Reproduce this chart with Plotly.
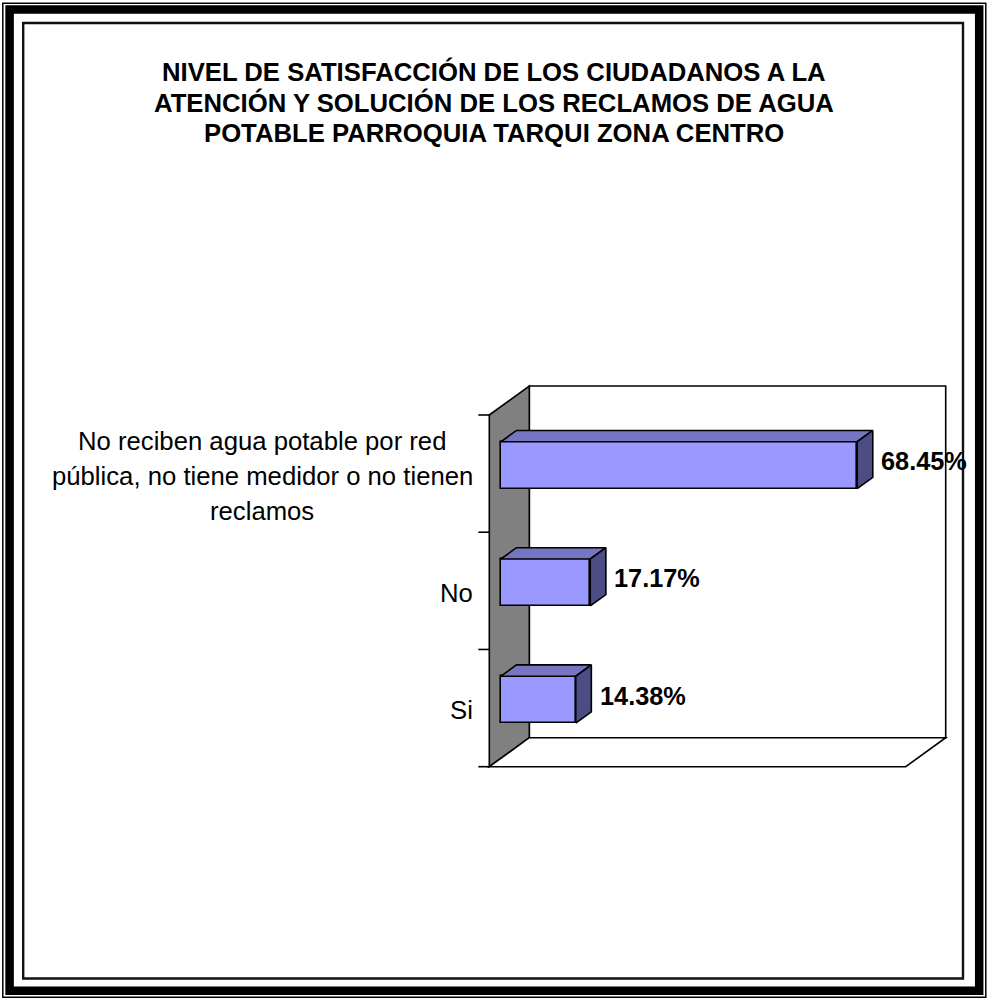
import plotly.graph_objects as go

# ---------------- data ----------------
categories = [
    "Si",
    "No",
    "No reciben agua potable por red<br>pública, no tiene medidor o no tienen<br>reclamos",
]
values = [14.38, 17.17, 68.45]
value_labels = ["14.38%", "17.17%", "68.45%"]
title_text = ("NIVEL DE SATISFACCIÓN DE LOS CIUDADANOS A LA<br>"
              "ATENCIÓN Y SOLUCIÓN DE LOS RECLAMOS DE AGUA<br>"
              "POTABLE PARROQUIA TARQUI ZONA CENTRO")
axis_max = 80

# ---------------- geometry (pixels) ----------------
W, H = 987, 999
FX = 489.3          # x of value 0 on front plane
FX_END = 905.7      # x of axis_max on front plane
FY_BOT = 766.7      # bottom of category band (front)
FY_TOP = 415.0      # top of category band (front)
DX, DY = 40.0, -29.0  # depth vector in px (y downward)
F0, F1 = 0.29, 0.68   # bar depth span
BAR_W = 0.4
n = len(categories)
S = (FX_END - FX) / axis_max
CH = (FY_BOT - FY_TOP) / n

x_zero_px = FX + F0 * DX
xa = -x_zero_px / S
xb = xa + W / S
yc0 = FY_BOT + F0 * DY - 0.5 * CH
c_hi = yc0 / CH
c_lo = (yc0 - H) / CH


def pt(v, c, d):
    """value, category coordinate, depth (0 front, 1 back) -> axis coords"""
    return v + (d - F0) * DX / S, c - (d - F0) * DY / CH


def path(points):
    return "M " + " L ".join(f"{x:.5f},{y:.5f}" for x, y in points) + " Z"


FONT = "Liberation Sans, Arial, sans-serif"
LINE = dict(color="black", width=1.6)

shapes = []
lo, hi = -0.5, n - 0.5
# back wall
shapes.append(dict(type="path", xref="x", yref="y", layer="below",
                   path=path([pt(0, lo, 1), pt(axis_max, lo, 1), pt(axis_max, hi, 1), pt(0, hi, 1)]),
                   fillcolor="white", line=LINE))
# side wall
shapes.append(dict(type="path", xref="x", yref="y", layer="below",
                   path=path([pt(0, lo, 0), pt(0, hi, 0), pt(0, hi, 1), pt(0, lo, 1)]),
                   fillcolor="#808080", line=LINE))
# floor
shapes.append(dict(type="path", xref="x", yref="y", layer="below",
                   path=path([pt(0, lo, 0), pt(axis_max, lo, 0), pt(axis_max, lo, 1), pt(0, lo, 1)]),
                   fillcolor="white", line=LINE))
# category tick marks
for k in range(n + 1):
    x1, y1 = pt(0, k - 0.5, 0)
    shapes.append(dict(type="line", xref="x", yref="y", layer="below",
                       x0=x1 - 11 / S, y0=y1, x1=x1, y1=y1, line=LINE))


# frame (paper coordinates)
def rect_px(x0, y0, x1, y1, width, color="black"):
    return dict(type="rect", xref="paper", yref="paper",
                x0=x0 / W, x1=x1 / W, y0=1 - y0 / H, y1=1 - y1 / H,
                line=dict(color=color, width=width), fillcolor="rgba(0,0,0,0)", layer="above")


shapes.append(rect_px(2.8, 3.2, 985.8, 997.3, 1.5))
shapes.append(rect_px(9.6, 9.6, 979.2, 990.8, 8.5))
shapes.append(rect_px(23.2, 23.0, 963.0, 978.5, 2.4, "#111111"))

fig = go.Figure()

# bar front faces
fig.add_trace(go.Bar(
    x=values, y=list(range(n)), orientation="h", width=BAR_W, base=0,
    marker=dict(color="#9999FF", line=dict(color="black", width=1.6)),
    hoverinfo="skip", showlegend=False,
))

# bar top and side faces
for i, v in enumerate(values):
    top = [pt(0, i + BAR_W / 2, F0), pt(v, i + BAR_W / 2, F0), pt(v, i + BAR_W / 2, F1), pt(0, i + BAR_W / 2, F1)]
    side = [pt(v, i - BAR_W / 2, F0), pt(v, i + BAR_W / 2, F0), pt(v, i + BAR_W / 2, F1), pt(v, i - BAR_W / 2, F1)]
    for poly, col in ((top, "#7575C2"), (side, "#4D4D85")):
        xs = [p[0] for p in poly] + [poly[0][0]]
        ys = [p[1] for p in poly] + [poly[0][1]]
        fig.add_trace(go.Scatter(x=xs, y=ys, mode="lines", fill="toself", fillcolor=col,
                                 line=dict(color="black", width=1.6), hoverinfo="skip",
                                 showlegend=False))

annotations = []
LABEL_SIZE = 25.7
LABEL_LINE = 35.0   # px between label lines
# category labels (multi-line labels laid out line by line)
for i, cat in enumerate(categories):
    x1, y1 = pt(0, i, 0)
    lines = cat.split("<br>")
    m = len(lines)
    for j, ln in enumerate(lines):
        annotations.append(dict(x=x1, y=y1, xref="x", yref="y", text=ln, showarrow=False,
                                xanchor="center" if m > 1 else "right", yanchor="middle",
                                xshift=(-14 - 213) if m > 1 else -14,
                                yshift=((m - 1) / 2 - j) * LABEL_LINE - 2,
                                font=dict(family=FONT, size=LABEL_SIZE, color="black")))
# value labels
for i, (v, lab) in enumerate(zip(values, value_labels)):
    annotations.append(dict(x=v, y=i, xref="x", yref="y", text=f"<b>{lab}</b>", showarrow=False,
                            xanchor="left", yanchor="middle", xshift=22, yshift=4,
                            font=dict(family=FONT, size=25.3, color="black")))
# title, line by line
TITLE_LINE = 30.7
t_lines = title_text.split("<br>")
for j, ln in enumerate(t_lines):
    yc = 102 + (j - (len(t_lines) - 1) / 2) * TITLE_LINE
    annotations.append(dict(x=0.5, y=1 - yc / H, xref="paper", yref="paper", text=f"<b>{ln}</b>",
                            showarrow=False, xanchor="center", yanchor="middle", align="center",
                            font=dict(family=FONT, size=25.7, color="black")))

fig.update_layout(
    width=W, height=H,
    margin=dict(l=0, r=0, t=0, b=0),
    paper_bgcolor="white", plot_bgcolor="white",
    xaxis=dict(range=[xa, xb], visible=False, fixedrange=True),
    yaxis=dict(range=[c_lo, c_hi], visible=False, fixedrange=True),
    shapes=shapes, annotations=annotations, showlegend=False,
    bargap=0,
)

fig.write_html("out.html", config={"displayModeBar": False},
               post_script="document.body.style.margin='0';document.body.style.overflow='hidden';")
